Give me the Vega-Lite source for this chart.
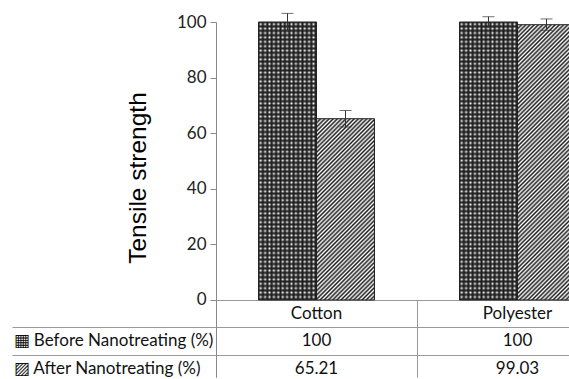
{
"$schema":"https://vega.github.io/schema/vega-lite/v6.json",
"width":353,"height":355,
"autosize":{"type":"none"},
"padding":{"left":216,"top":22,"right":0,"bottom":2},
"background":"white",
"config":{"view":{"stroke":null}},
"params":[{"name":"st","value":[
{"offset":0,"color":"#222"},{"offset":0.005,"color":"transparent"},{"offset":0.01,"color":"#222"},{"offset":0.015,"color":"transparent"},{"offset":0.02,"color":"#222"},{"offset":0.025,"color":"transparent"},{"offset":0.03,"color":"#222"},{"offset":0.035,"color":"transparent"},{"offset":0.04,"color":"#222"},{"offset":0.045,"color":"transparent"},
{"offset":0.05,"color":"#222"},{"offset":0.055,"color":"transparent"},{"offset":0.06,"color":"#222"},{"offset":0.065,"color":"transparent"},{"offset":0.07,"color":"#222"},{"offset":0.075,"color":"transparent"},{"offset":0.08,"color":"#222"},{"offset":0.085,"color":"transparent"},{"offset":0.09,"color":"#222"},{"offset":0.095,"color":"transparent"},
{"offset":0.1,"color":"#222"},{"offset":0.105,"color":"transparent"},{"offset":0.11,"color":"#222"},{"offset":0.115,"color":"transparent"},{"offset":0.12,"color":"#222"},{"offset":0.125,"color":"transparent"},{"offset":0.13,"color":"#222"},{"offset":0.135,"color":"transparent"},{"offset":0.14,"color":"#222"},{"offset":0.145,"color":"transparent"},
{"offset":0.15,"color":"#222"},{"offset":0.155,"color":"transparent"},{"offset":0.16,"color":"#222"},{"offset":0.165,"color":"transparent"},{"offset":0.17,"color":"#222"},{"offset":0.175,"color":"transparent"},{"offset":0.18,"color":"#222"},{"offset":0.185,"color":"transparent"},{"offset":0.19,"color":"#222"},{"offset":0.195,"color":"transparent"},
{"offset":0.2,"color":"#222"},{"offset":0.205,"color":"transparent"},{"offset":0.21,"color":"#222"},{"offset":0.215,"color":"transparent"},{"offset":0.22,"color":"#222"},{"offset":0.225,"color":"transparent"},{"offset":0.23,"color":"#222"},{"offset":0.235,"color":"transparent"},{"offset":0.24,"color":"#222"},{"offset":0.245,"color":"transparent"},
{"offset":0.25,"color":"#222"},{"offset":0.255,"color":"transparent"},{"offset":0.26,"color":"#222"},{"offset":0.265,"color":"transparent"},{"offset":0.27,"color":"#222"},{"offset":0.275,"color":"transparent"},{"offset":0.28,"color":"#222"},{"offset":0.285,"color":"transparent"},{"offset":0.29,"color":"#222"},{"offset":0.295,"color":"transparent"},
{"offset":0.3,"color":"#222"},{"offset":0.305,"color":"transparent"},{"offset":0.31,"color":"#222"},{"offset":0.315,"color":"transparent"},{"offset":0.32,"color":"#222"},{"offset":0.325,"color":"transparent"},{"offset":0.33,"color":"#222"},{"offset":0.335,"color":"transparent"},{"offset":0.34,"color":"#222"},{"offset":0.345,"color":"transparent"},
{"offset":0.35,"color":"#222"},{"offset":0.355,"color":"transparent"},{"offset":0.36,"color":"#222"},{"offset":0.365,"color":"transparent"},{"offset":0.37,"color":"#222"},{"offset":0.375,"color":"transparent"},{"offset":0.38,"color":"#222"},{"offset":0.385,"color":"transparent"},{"offset":0.39,"color":"#222"},{"offset":0.395,"color":"transparent"},
{"offset":0.4,"color":"#222"},{"offset":0.405,"color":"transparent"},{"offset":0.41,"color":"#222"},{"offset":0.415,"color":"transparent"},{"offset":0.42,"color":"#222"},{"offset":0.425,"color":"transparent"},{"offset":0.43,"color":"#222"},{"offset":0.435,"color":"transparent"},{"offset":0.44,"color":"#222"},{"offset":0.445,"color":"transparent"},
{"offset":0.45,"color":"#222"},{"offset":0.455,"color":"transparent"},{"offset":0.46,"color":"#222"},{"offset":0.465,"color":"transparent"},{"offset":0.47,"color":"#222"},{"offset":0.475,"color":"transparent"},{"offset":0.48,"color":"#222"},{"offset":0.485,"color":"transparent"},{"offset":0.49,"color":"#222"},{"offset":0.495,"color":"transparent"},
{"offset":0.5,"color":"#222"},{"offset":0.505,"color":"transparent"},{"offset":0.51,"color":"#222"},{"offset":0.515,"color":"transparent"},{"offset":0.52,"color":"#222"},{"offset":0.525,"color":"transparent"},{"offset":0.53,"color":"#222"},{"offset":0.535,"color":"transparent"},{"offset":0.54,"color":"#222"},{"offset":0.545,"color":"transparent"},
{"offset":0.55,"color":"#222"},{"offset":0.555,"color":"transparent"},{"offset":0.56,"color":"#222"},{"offset":0.565,"color":"transparent"},{"offset":0.57,"color":"#222"},{"offset":0.575,"color":"transparent"},{"offset":0.58,"color":"#222"},{"offset":0.585,"color":"transparent"},{"offset":0.59,"color":"#222"},{"offset":0.595,"color":"transparent"},
{"offset":0.6,"color":"#222"},{"offset":0.605,"color":"transparent"},{"offset":0.61,"color":"#222"},{"offset":0.615,"color":"transparent"},{"offset":0.62,"color":"#222"},{"offset":0.625,"color":"transparent"},{"offset":0.63,"color":"#222"},{"offset":0.635,"color":"transparent"},{"offset":0.64,"color":"#222"},{"offset":0.645,"color":"transparent"},
{"offset":0.65,"color":"#222"},{"offset":0.655,"color":"transparent"},{"offset":0.66,"color":"#222"},{"offset":0.665,"color":"transparent"},{"offset":0.67,"color":"#222"},{"offset":0.675,"color":"transparent"},{"offset":0.68,"color":"#222"},{"offset":0.685,"color":"transparent"},{"offset":0.69,"color":"#222"},{"offset":0.695,"color":"transparent"},
{"offset":0.7,"color":"#222"},{"offset":0.705,"color":"transparent"},{"offset":0.71,"color":"#222"},{"offset":0.715,"color":"transparent"},{"offset":0.72,"color":"#222"},{"offset":0.725,"color":"transparent"},{"offset":0.73,"color":"#222"},{"offset":0.735,"color":"transparent"},{"offset":0.74,"color":"#222"},{"offset":0.745,"color":"transparent"},
{"offset":0.75,"color":"#222"},{"offset":0.755,"color":"transparent"},{"offset":0.76,"color":"#222"},{"offset":0.765,"color":"transparent"},{"offset":0.77,"color":"#222"},{"offset":0.775,"color":"transparent"},{"offset":0.78,"color":"#222"},{"offset":0.785,"color":"transparent"},{"offset":0.79,"color":"#222"},{"offset":0.795,"color":"transparent"},
{"offset":0.8,"color":"#222"},{"offset":0.805,"color":"transparent"},{"offset":0.81,"color":"#222"},{"offset":0.815,"color":"transparent"},{"offset":0.82,"color":"#222"},{"offset":0.825,"color":"transparent"},{"offset":0.83,"color":"#222"},{"offset":0.835,"color":"transparent"},{"offset":0.84,"color":"#222"},{"offset":0.845,"color":"transparent"},
{"offset":0.85,"color":"#222"},{"offset":0.855,"color":"transparent"},{"offset":0.86,"color":"#222"},{"offset":0.865,"color":"transparent"},{"offset":0.87,"color":"#222"},{"offset":0.875,"color":"transparent"},{"offset":0.88,"color":"#222"},{"offset":0.885,"color":"transparent"},{"offset":0.89,"color":"#222"},{"offset":0.895,"color":"transparent"},
{"offset":0.9,"color":"#222"},{"offset":0.905,"color":"transparent"},{"offset":0.91,"color":"#222"},{"offset":0.915,"color":"transparent"},{"offset":0.92,"color":"#222"},{"offset":0.925,"color":"transparent"},{"offset":0.93,"color":"#222"},{"offset":0.935,"color":"transparent"},{"offset":0.94,"color":"#222"},{"offset":0.945,"color":"transparent"},
{"offset":0.95,"color":"#222"},{"offset":0.955,"color":"transparent"},{"offset":0.96,"color":"#222"},{"offset":0.965,"color":"transparent"},{"offset":0.97,"color":"#222"},{"offset":0.975,"color":"transparent"},{"offset":0.98,"color":"#222"},{"offset":0.985,"color":"transparent"},{"offset":0.99,"color":"#222"},{"offset":0.995,"color":"transparent"},
{"offset":1,"color":"#222"}
]}],
"data":{"values":[
{"fabric":"Cotton","series":"Before Nanotreating (%)","value":100,"lo":96.9,"hi":103.1},
{"fabric":"Cotton","series":"After Nanotreating (%)","value":65.21,"lo":62.2,"hi":68.2},
{"fabric":"Polyester","series":"Before Nanotreating (%)","value":100,"lo":98.1,"hi":101.9},
{"fabric":"Polyester","series":"After Nanotreating (%)","value":99.03,"lo":97.0,"hi":101.1}
]},
"layer":[
{
"encoding":{
"x":{"field":"fabric","type":"nominal","scale":{"domain":["Cotton","Polyester"],"range":[0,402],"paddingInner":0,"paddingOuter":0},
"axis":{"orient":"bottom","offset":-77,"title":null,"bandPosition":0,"ticks":true,"tickSize":77,"tickColor":"#999","domain":true,"domainColor":"#999","labels":true,"labelAngle":0,"labelFont":"Lato","labelFontSize":17,"labelColor":"#111","labelBaseline":"middle","labelPadding":-63.5,"grid":false}},
"xOffset":{"field":"series","type":"nominal","scale":{"domain":["Before Nanotreating (%)","After Nanotreating (%)"],"paddingInner":0,"paddingOuter":0.733}},
"y":{"field":"value","type":"quantitative","scale":{"domain":[-27.7,100],"nice":false,"zero":false},
"axis":{"values":[0,20,40,60,80,100],"title":"Tensile strength","titleFont":"Liberation Sans","titleFontSize":24.5,"titleFontWeight":"normal","titleColor":"#000","titleX":-66,"titleY":155.5,"titleAngle":270,"titleBaseline":"bottom","titleAlign":"center","tickSize":6,"tickColor":"#888","domainColor":"#888","labelFont":"Lato","labelFontSize":17,"labelColor":"#222","labelPadding":4,"grid":false}}
},
"layer":[
{"mark":{"type":"bar","fill":{"expr":"datum.series == 'After Nanotreating (%)' ? (datum.fabric == 'Cotton' ? {gradient:'linear',x1:0,y1:0,x2:0.6723,y2:2.1015,stops:st} : {gradient:'linear',x1:0,y1:0,x2:0.3078,y2:1.4608,stops:st}) : {gradient:'linear',x1:0,y1:0,x2:7.586,y2:0,stops:st}"}}},
{"transform":[{"filter":"datum.series == 'Before Nanotreating (%)'"}],"mark":{"type":"bar","fill":{"expr":"{gradient:'linear',x1:0,y1:0,x2:0,y2:1.5827,stops:st}"}}},
{"mark":{"type":"bar","fill":"transparent","stroke":"#222","strokeWidth":1}},
{"mark":{"type":"rule","color":"#333","strokeWidth":1},"encoding":{"y":{"field":"lo","type":"quantitative","scale":{"domain":[-27.7,100],"nice":false,"zero":false}},"y2":{"field":"hi"}}},
{"mark":{"type":"tick","orient":"horizontal","size":12,"thickness":1,"color":"#333"},"encoding":{"y":{"field":"hi","type":"quantitative","scale":{"domain":[-27.7,100],"nice":false,"zero":false}}}},
{"mark":{"type":"tick","orient":"horizontal","size":12,"thickness":1,"color":"#333"},"encoding":{"y":{"field":"lo","type":"quantitative","scale":{"domain":[-27.7,100],"nice":false,"zero":false}}}}
]
},
{
"mark":{"type":"text","font":"Lato","fontSize":17,"color":"#111","baseline":"middle"},
"encoding":{
"x":{"field":"fabric","type":"nominal"},
"y":{"field":"series","type":"nominal","scale":{"type":"band","domain":["Before Nanotreating (%)","After Nanotreating (%)"],"range":[305.5,361],"paddingInner":0,"paddingOuter":0},
"axis":{"orient":"left","title":null,"domain":false,"bandPosition":0,"tickSize":204,"tickColor":"#999","grid":true,"gridColor":"#999","labelAlign":"left","labelPadding":-1,"labelLimit":0,"labelFont":"Lato","labelFontSize":17,"labelColor":"#111","labelBaseline":"middle","labelExpr":"(datum.value == 'Before Nanotreating (%)' ? '▦ ' : '▨ ') + datum.label"}},
"text":{"field":"value","type":"quantitative"}
}
}
],
"resolve":{"scale":{"y":"independent"},"axis":{"y":"independent"}}
}
